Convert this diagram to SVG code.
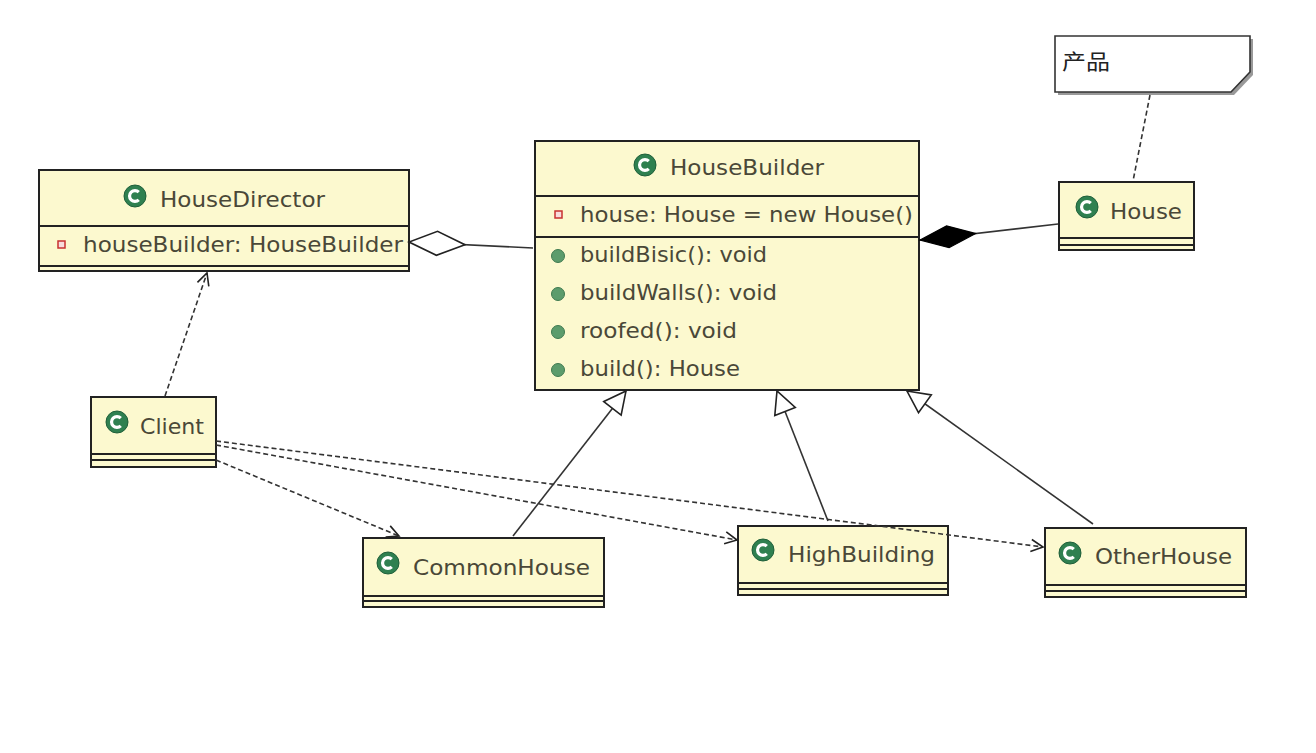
<svg xmlns="http://www.w3.org/2000/svg" xmlns:xlink="http://www.w3.org/1999/xlink" width="1316" height="753" viewBox="0 0 1316 753">
<style>
.box{fill:#fcf9cf;stroke:#222;stroke-width:2}
.sep{stroke:#222;stroke-width:2;fill:none}
.t{font-family:"DejaVu Sans","Liberation Sans",sans-serif;font-size:21px;fill:#4a4838}
.cjk{font-family:"Noto Sans CJK SC","Noto Sans CJK JP",sans-serif;font-size:21px;fill:#222}
.dash{fill:none;stroke:#333;stroke-width:1.6;stroke-dasharray:5 3}
.solid{fill:none;stroke:#333;stroke-width:1.6}
.meth{fill:#5c9c6c;stroke:#3f7a50;stroke-width:1}
.priv{fill:#f8dcdc;stroke:#c83030;stroke-width:1.5}
</style>
<defs>
<symbol id="cicon" viewBox="-12 -12 24 24" overflow="visible">
<circle r="11" fill="#2f8050" stroke="#1f5f3a" stroke-width="1"/>
<path d="M3.8,-3.8 A5.4,5.4 0 1 0 3.8,3.8" fill="none" stroke="#fff" stroke-width="3.2"/>
</symbol>
<marker id="hollowDiamond" markerUnits="userSpaceOnUse" viewBox="-1 -14 59 28" markerWidth="59" markerHeight="28" refX="56" refY="0" orient="auto">
<path d="M0,0 L28,-12 L56,0 L28,12 Z" fill="#fff" stroke="#222" stroke-width="1.6"/>
</marker>
<marker id="filledDiamond" markerUnits="userSpaceOnUse" viewBox="-1 -13 59 26" markerWidth="59" markerHeight="26" refX="56" refY="0" orient="auto">
<path d="M0,0 L28,-11 L56,0 L28,11 Z" fill="#000" stroke="#000" stroke-width="1.2"/>
</marker>
<marker id="tri" markerUnits="userSpaceOnUse" viewBox="-2 -13 26 26" markerWidth="26" markerHeight="26" refX="22" refY="0" orient="auto">
<path d="M0,-11 L22,0 L0,11 Z" fill="#fff" stroke="#222" stroke-width="1.6"/>
</marker>
<marker id="open" markerUnits="userSpaceOnUse" viewBox="-2 -8 16 16" markerWidth="16" markerHeight="16" refX="12" refY="0" orient="auto">
<path d="M0,-6 L12,0 L0,6" fill="none" stroke="#222" stroke-width="1.6"/>
</marker>
</defs>
<rect width="1316" height="753" fill="#fff"/>

<g id="note">
<path d="M1058,39 H1253 V75 L1234,95 H1058 Z" fill="#999" stroke="none"/>
<path d="M1055,36 H1250 V72 L1231,92 H1055 Z" fill="#fff" stroke="#333" stroke-width="1.6"/>
<text class="cjk" x="1062" y="69" textLength="48" lengthAdjust="spacingAndGlyphs">产品</text>
</g>

<g id="HouseDirector">
<rect class="box" x="39" y="170" width="370" height="101"/>
<path class="sep" d="M39,226 H409 M39,266 H409"/>
<use href="#cicon" x="123" y="184" width="24" height="24"/>
<text class="t" x="160" y="207" textLength="165" lengthAdjust="spacingAndGlyphs">HouseDirector</text>
<rect class="priv" x="58" y="241" width="7" height="7"/>
<text class="t" x="83" y="252" textLength="320" lengthAdjust="spacingAndGlyphs">houseBuilder: HouseBuilder</text>
</g>

<g id="HouseBuilder">
<rect class="box" x="535" y="141" width="384" height="249"/>
<path class="sep" d="M535,196 H919 M535,237 H919"/>
<use href="#cicon" x="633" y="153" width="24" height="24"/>
<text class="t" x="670" y="175" textLength="154" lengthAdjust="spacingAndGlyphs">HouseBuilder</text>
<rect class="priv" x="555" y="211" width="7" height="7"/>
<text class="t" x="580" y="222" textLength="333" lengthAdjust="spacingAndGlyphs">house: House = new House()</text>
<circle class="meth" cx="558" cy="256" r="6.5"/>
<text class="t" x="580" y="262" textLength="187" lengthAdjust="spacingAndGlyphs">buildBisic(): void</text>
<circle class="meth" cx="558" cy="294" r="6.5"/>
<text class="t" x="580" y="300" textLength="197" lengthAdjust="spacingAndGlyphs">buildWalls(): void</text>
<circle class="meth" cx="558" cy="332" r="6.5"/>
<text class="t" x="580" y="338" textLength="157" lengthAdjust="spacingAndGlyphs">roofed(): void</text>
<circle class="meth" cx="558" cy="370" r="6.5"/>
<text class="t" x="580" y="376" textLength="160" lengthAdjust="spacingAndGlyphs">build(): House</text>
</g>

<g id="House">
<rect class="box" x="1059" y="182" width="135" height="68"/>
<path class="sep" d="M1059,238 H1194 M1059,245 H1194"/>
<use href="#cicon" x="1075" y="195" width="24" height="24"/>
<text class="t" x="1110" y="219" textLength="72" lengthAdjust="spacingAndGlyphs">House</text>
</g>

<g id="Client">
<rect class="box" x="91" y="397" width="125" height="70"/>
<path class="sep" d="M91,454 H216 M91,460 H216"/>
<use href="#cicon" x="105" y="410" width="24" height="24"/>
<text class="t" x="140" y="434" textLength="64" lengthAdjust="spacingAndGlyphs">Client</text>
</g>

<g id="CommonHouse">
<rect class="box" x="363" y="538" width="241" height="69"/>
<path class="sep" d="M363,596 H604 M363,601 H604"/>
<use href="#cicon" x="376" y="551" width="24" height="24"/>
<text class="t" x="413" y="575" textLength="177" lengthAdjust="spacingAndGlyphs">CommonHouse</text>
</g>

<g id="HighBuilding">
<rect class="box" x="738" y="526" width="210" height="69"/>
<path class="sep" d="M738,583 H948 M738,589 H948"/>
<use href="#cicon" x="751" y="538" width="24" height="24"/>
<text class="t" x="788" y="562" textLength="147" lengthAdjust="spacingAndGlyphs">HighBuilding</text>
</g>

<g id="OtherHouse">
<rect class="box" x="1045" y="528" width="201" height="69"/>
<path class="sep" d="M1045,585 H1246 M1045,591 H1246"/>
<use href="#cicon" x="1058" y="541" width="24" height="24"/>
<text class="t" x="1095" y="564" textLength="137" lengthAdjust="spacingAndGlyphs">OtherHouse</text>
</g>

<g id="connectors">
<path class="solid" d="M533,248 L409,242" marker-end="url(#hollowDiamond)"/>
<path class="solid" d="M1058,224 L920,240" marker-end="url(#filledDiamond)"/>
<path class="dash" d="M1150,95 L1133,181"/>
<path class="dash" d="M165,396 L207,273" marker-end="url(#open)"/>
<path class="dash" d="M216,460 L399,536" marker-end="url(#open)"/>
<path class="dash" d="M216,445 L737,540" marker-end="url(#open)"/>
<path class="dash" d="M216,441 L1043,547" marker-end="url(#open)"/>
<path class="solid" d="M513,536 L626,391" marker-end="url(#tri)"/>
<path class="solid" d="M828,521 L777,391" marker-end="url(#tri)"/>
<path class="solid" d="M1093,524 L907,391" marker-end="url(#tri)"/>
</g>
</svg>
